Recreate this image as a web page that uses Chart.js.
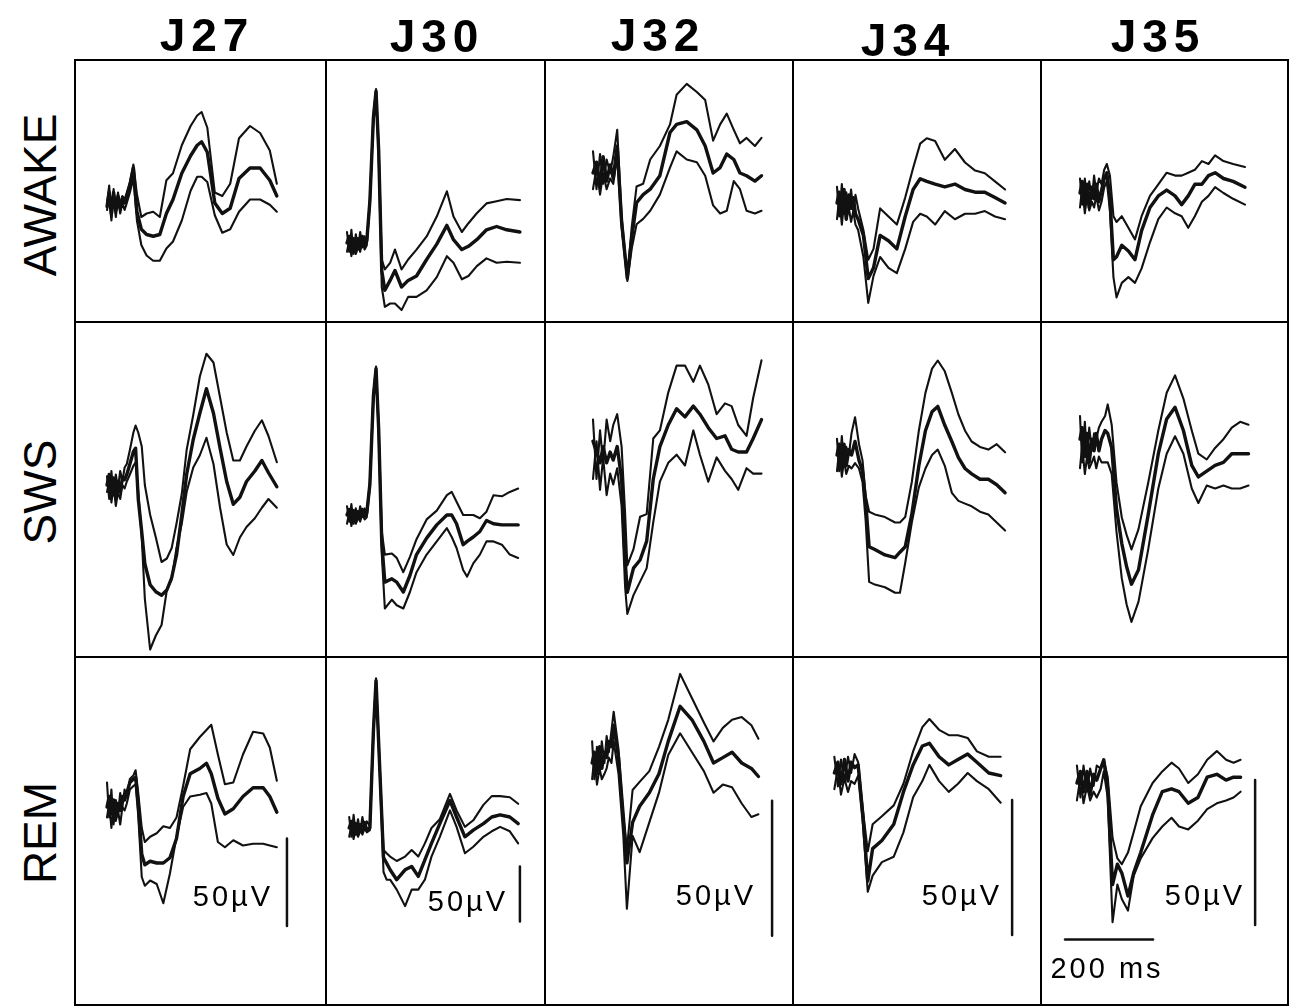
<!DOCTYPE html>
<html>
<head>
<meta charset="utf-8">
<script src="https://cdn.jsdelivr.net/npm/chart.js@4.4.1/dist/chart.umd.min.js"></script>
<style>
  html, body { margin: 0; padding: 0; background: #fff; }
  #fig { position: relative; width: 1290px; height: 1008px; overflow: hidden;
         font-family: "Liberation Sans", Arial, sans-serif; color: #000; }
  #fig canvas { position: absolute; }
  .rule { position: absolute; background: #000; z-index: 2; }
  .title { position: absolute; font-size: 46px; font-weight: bold; letter-spacing: 6px;
           transform: translate(-50%, -50%); white-space: nowrap; }
  .state { position: absolute; font-size: 46px; white-space: nowrap;
           transform: translate(-50%, -50%) rotate(-90deg); }
  .scale { position: absolute; font-size: 29px; letter-spacing: 3px; white-space: nowrap;
           transform: translate(-50%, -50%); z-index: 3; }
</style>
</head>
<body>
<div id="fig"></div>
<script>
// ---- labels ----
const animals = ['J27', 'J30', 'J32', 'J34', 'J35'];
const states = ['AWAKE', 'SWS', 'REM'];

// ---- evoked responses: time (ms from stimulus), upper / mean / lower (µV) ----
// J27
const awakeJ27Time  = [0, 5, 10, 15, 20, 25, 30, 35, 40, 45, 52, 60, 68, 78, 90, 105, 120, 135, 150, 170, 190, 205, 215, 228, 245, 262, 280, 300, 325, 348, 370, 386];
const awakeJ27Upper = [0, 10, -8, 8, -6, 6, -4, 4, 2, 6, 12, 22, 5, -8, -6, -5, -8, 13, 17, 33, 44, 50, 52, 43, 6, 4, 11, 37, 44, 40, 30, 11];
const awakeJ27Mean  = [-2, 6, -6, 6, -4, 4, -3, 3, 0, 4, 10, 20, -5, -15, -18, -19, -18, -6, 2, 17, 27, 33, 35, 29, 0, -6, -3, 14, 20, 20, 13, 4];
const awakeJ27Lower = [-4, 2, -10, 3, -8, 2, -6, 0, -4, 0, 6, 14, -10, -24, -30, -33, -33, -26, -22, -10, 7, 15, 15, 12, -7, -17, -15, -5, 2, 2, -1, -5];

const swsJ27Time  = [0, 5, 10, 15, 20, 25, 30, 35, 40, 45, 52, 60, 65, 71, 79, 86, 98, 111, 124, 136, 147, 158, 170, 181, 196, 211, 226, 242, 257, 272, 287, 302, 317, 336, 352, 367, 386];
const swsJ27Upper = [5, -8, 8, -6, 6, -2, 8, 2, 10, 12, 20, 30, 34, 30, 22, 0, -17, -30, -44, -42, -36, -22, -5, 20, 40, 62, 75, 70, 50, 30, 14, 14, 22, 31, 37, 28, 13];
const swsJ27Mean  = [0, 6, -6, 4, -8, 2, -4, 4, 3, 6, 12, 19, 21, -8, -27, -45, -57, -61, -63, -60, -53, -40, -17, 6, 26, 41, 55, 41, 21, 2, -11, -7, 2, 8, 14, 7, -1];
const swsJ27Lower = [-4, 2, -10, 0, -12, -4, -8, 0, -2, 2, 6, 11, 13, -4, -30, -65, -94, -86, -80, -60, -54, -36, -22, -4, 10, 17, 27, 12, -13, -34, -40, -30, -24, -19, -13, -8, -13];

const remJ27Time  = [0, 5, 10, 15, 20, 25, 30, 35, 40, 45, 52, 60, 65, 71, 79, 86, 98, 113, 128, 143, 158, 173, 189, 211, 226, 237, 252, 268, 287, 309, 332, 355, 370, 386];
const remJ27Upper = [14, -6, 10, -10, 4, -4, 8, 0, 10, 6, 16, 18, 21, 8, -12, -20, -17, -15, -11, -12, -6, 12, 33, 40, 44, 47, 30, 13, 14, 30, 43, 42, 34, 15];
const remJ27Mean  = [0, 6, -4, 4, -6, 2, -2, 6, 4, 8, 14, 16, 17, 2, -27, -33, -31, -32, -32, -29, -18, 6, 19, 22, 25, 19, 5, -4, -1, 6, 11, 11, 6, -3];
const remJ27Lower = [-6, 2, -12, 0, -8, -2, -10, 0, -2, 2, 10, 12, 13, -5, -40, -45, -42, -44, -55, -38, -17, 0, 6, 7, 8, 2, -20, -23, -19, -22, -21, -21, -22, -23];

// J30
const awakeJ30Time  = [0, 5, 10, 15, 20, 25, 30, 35, 40, 45, 52, 60, 66, 72, 79, 86, 98, 109, 124, 139, 158, 181, 204, 227, 242, 261, 276, 295, 317, 340, 363, 393];
const awakeJ30Upper = [10, -8, 12, -10, 8, -6, 10, -4, 6, 0, 40, 116, 140, 86, -15, -24, -18, -6, -24, -15, -6, 6, 24, 47, 24, 10, 18, 27, 36, 38, 40, 39];
const awakeJ30Mean  = [0, 6, -6, 4, -8, 4, -4, 6, -2, 2, 38, 114, 138, 84, -25, -43, -34, -25, -40, -34, -30, -15, -1, 16, 3, -6, -3, 3, 12, 15, 12, 10];
const awakeJ30Lower = [-8, 2, -12, 0, -10, -2, -8, 2, -6, -2, 36, 112, 136, 80, -40, -58, -55, -55, -61, -49, -49, -43, -31, -12, -18, -33, -30, -21, -14, -18, -17, -18];

const swsJ30Time  = [0, 5, 10, 15, 20, 25, 30, 35, 40, 45, 52, 60, 66, 72, 79, 86, 102, 113, 128, 143, 158, 181, 204, 227, 238, 249, 264, 273, 287, 302, 317, 333, 352, 370, 389];
const swsJ30Upper = [8, -6, 10, -8, 6, -4, 8, -2, 6, 2, 30, 110, 135, 80, -15, -36, -35, -39, -52, -38, -22, -4, 4, 18, 21, 12, 0, 0, 0, -3, 3, 18, 17, 21, 24];
const swsJ30Mean  = [0, 5, -5, 4, -6, 3, -3, 5, -1, 2, 28, 108, 133, 78, -25, -61, -58, -61, -70, -55, -36, -21, -9, 0, 0, -8, -27, -24, -20, -15, -5, -8, -9, -9, -9];
const swsJ30Lower = [-8, 2, -10, 0, -8, -2, -6, 2, -4, -2, 26, 106, 131, 76, -35, -85, -77, -82, -85, -70, -52, -36, -24, -12, -20, -30, -50, -56, -44, -36, -24, -24, -27, -36, -39];

const remJ30Time  = [5, 10, 15, 20, 25, 30, 35, 40, 45, 52, 60, 66, 74, 83, 90, 98, 113, 132, 147, 162, 177, 192, 211, 234, 249, 268, 287, 310, 329, 348, 370, 389];
const remJ30Upper = [10, -8, 12, -6, 8, -4, 10, -2, 6, 2, 90, 136, 60, -20, -23, -26, -30, -26, -20, -26, -14, 0, 8, 31, 16, 1, 7, 21, 29, 29, 28, 22];
const remJ30Mean  = [0, 6, -4, 4, -6, 3, -3, 5, -2, 0, 88, 134, 58, -27, -32, -38, -47, -38, -35, -44, -29, -14, 4, 25, 10, -8, -2, 4, 10, 12, 10, 4];
const remJ30Lower = [-8, 2, -10, 0, -8, -2, -6, 0, -4, -2, 86, 132, 56, -40, -47, -47, -56, -71, -56, -56, -47, -26, -8, 16, 1, -23, -17, -8, -3, 1, -3, -14];

// J32
const awakeJ32Time  = [0, 8, 16, 23, 31, 39, 46, 55, 65, 78, 88, 99, 114, 130, 152, 175, 190, 213, 236, 255, 273, 289, 304, 320, 334, 349, 368, 383];
const awakeJ32Upper = [8, -6, 7, -4, 5, 0, 6, 16, -16, -39, -20, -5, -4, 5, 10, 18, 29, 33, 30, 27, 12, 18, 22, 16, 11, 13, 10, 13];
const awakeJ32Mean  = [0, 4, -5, 6, -3, 3, -2, 10, -18, -39, -24, -11, -8, -6, -1, 15, 18, 19, 16, 10, 0, 2, 7, 5, 0, -1, -3, -1];
const awakeJ32Lower = [-6, 2, -8, 0, -6, -2, -4, 6, -20, -40, -28, -19, -17, -14, -8, 2, 8, 5, 4, -1, -12, -15, -14, -3, -6, -14, -15, -14];

const swsJ32Time  = [0, 8, 16, 23, 31, 39, 46, 55, 65, 73, 78, 92, 107, 122, 137, 152, 171, 190, 209, 228, 243, 262, 281, 300, 315, 330, 349, 364, 383];
const swsJ32Upper = [12, -10, 8, -4, 12, 4, 10, 14, 2, -23, -42, -36, -24, -23, 5, 8, 22, 32, 32, 26, 32, 25, 14, 18, 17, 10, 6, 20, 34];
const swsJ32Mean  = [4, 0, -4, 2, -4, 0, -3, 2, -10, -40, -52, -43, -40, -33, -10, 2, 10, 16, 13, 17, 14, 9, 5, 6, 1, 0, 0, 5, 12];
const swsJ32Lower = [-10, 4, -14, -2, -16, -8, -12, -6, -20, -50, -60, -53, -48, -43, -26, -11, -4, -1, -5, 8, -1, -11, -2, -7, -10, -14, -6, -8, -8];

const remJ32Time  = [-2, 3, 9, 15, 20, 26, 31, 36, 42, 47, 58, 69, 77, 90, 106, 128, 150, 171, 198, 225, 252, 274, 295, 316, 338, 360, 376];
const remJ32Upper = [8, -6, 6, -4, 8, 0, 10, 4, 12, 19, 5, -20, -32, -10, -7, -3, 6, 16, 33, 24, 15, 8, 13, 16, 17, 14, 9];
const remJ32Mean  = [0, 4, -4, 6, -2, 4, 2, 8, 6, 14, 2, -20, -37, -22, -16, -11, -4, 8, 21, 16, 8, 0, 2, 4, 0, -2, -5];
const remJ32Lower = [-6, 2, -8, -2, -6, -4, -2, 2, 0, 8, -4, -27, -54, -27, -33, -22, -11, 3, 11, 4, -3, -11, -8, -9, -15, -20, -19];

// J34
const awakeJ34Time  = [0, 5, 11, 16, 21, 27, 32, 37, 42, 48, 60, 71, 83, 98, 117, 136, 155, 173, 189, 204, 223, 245, 268, 291, 314, 336, 359, 382];
const awakeJ34Upper = [6, -5, 7, -4, 4, -2, 5, -3, 3, -2, -10, -21, -17, -2, -5, -8, 2, 13, 22, 24, 23, 16, 20, 15, 12, 11, 8, 5];
const awakeJ34Mean  = [0, 4, -4, 5, -6, 3, -2, 2, -4, -6, -12, -28, -24, -12, -14, -17, -5, 5, 9, 8, 7, 6, 7, 5, 4, 4, 2, 0];
const awakeJ34Lower = [-6, 2, -8, 0, -6, -2, -7, -3, -8, -10, -20, -37, -27, -20, -24, -26, -17, -7, -4, -5, -8, -3, -6, -4, -4, -3, -5, -6];

const swsJ34Time  = [0, 5, 11, 16, 21, 27, 33, 41, 50, 58, 65, 73, 86, 109, 132, 143, 155, 170, 186, 201, 216, 229, 245, 261, 276, 291, 306, 325, 344, 363, 382];
const swsJ34Upper = [6, -6, 7, -4, 3, 0, 8, 14, 4, -2, -15, -21, -22, -23, -25, -25, -23, -10, 9, 23, 32, 35, 31, 23, 15, 9, 5, 3, 2, 4, 1];
const swsJ34Mean  = [0, 4, -5, 4, -4, 2, 0, 5, -2, -6, -17, -34, -35, -37, -38, -36, -34, -22, -4, 9, 16, 18, 11, 5, -1, -5, -7, -9, -9, -11, -14];
const swsJ34Lower = [-6, 2, -8, -2, -7, -4, -5, -3, -5, -10, -24, -47, -48, -49, -51, -51, -40, -25, -12, -5, 0, 2, -4, -14, -17, -18, -19, -21, -22, -25, -28];

const remJ34Time  = [-6, 2, 9, 17, 25, 32, 40, 48, 59, 70, 81, 102, 129, 151, 173, 194, 210, 232, 254, 275, 297, 318, 345, 372];
const remJ34Upper = [6, -5, 5, -3, 6, 0, 7, 4, -14, -29, -19, -16, -12, -4, 8, 17, 20, 16, 14, 14, 13, 8, 6, 6];
const remJ34Mean  = [0, 4, -4, 5, -3, 4, 2, 3, -16, -40, -28, -25, -19, -7, 3, 10, 11, 6, 3, 5, 7, 4, 0, -1];
const remJ34Lower = [-6, 2, -8, -2, -7, -3, -4, -1, -19, -44, -38, -33, -31, -22, -9, -3, 3, -3, -7, -4, 0, -3, -6, -11];

// J35
const awakeJ35Time  = [0, 5, 11, 16, 21, 27, 32, 37, 43, 49, 55, 61, 68, 76, 83, 95, 110, 125, 140, 159, 178, 197, 216, 231, 246, 261, 277, 292, 307, 326, 348, 375];
const awakeJ35Upper = [5, -4, 5, -3, 4, -2, 6, 0, 5, 3, 8, 10, 6, -8, -10, -8, -12, -16, -8, -1, 3, 7, 6, 6, 7, 8, 11, 10, 13, 11, 10, 9];
const awakeJ35Mean  = [0, 4, -4, 3, -5, 2, -2, 3, -3, 1, 5, 7, -2, -23, -22, -18, -20, -23, -13, -5, -1, 1, -1, -4, -1, 3, 3, 6, 7, 5, 4, 2];
const awakeJ35Lower = [-5, 2, -7, -1, -6, -3, -5, -1, -6, -3, 2, 4, -6, -29, -36, -31, -29, -31, -26, -17, -9, -5, -7, -8, -12, -8, -3, -1, 2, 0, -2, -4];

const swsJ35Time  = [0, 5, 11, 16, 21, 27, 32, 37, 43, 49, 57, 63, 72, 83, 95, 106, 117, 133, 155, 178, 197, 216, 235, 254, 269, 288, 307, 326, 345, 364, 383];
const swsJ35Upper = [10, -6, 8, -4, 6, -2, 4, 2, 6, 8, 10, 14, 7, -13, -25, -31, -36, -29, -13, 5, 18, 24, 16, 5, -3, -5, -1, 2, 6, 8, 7];
const swsJ35Mean  = [2, 6, -4, 4, -6, 2, -2, 4, -2, 2, 5, 4, -1, -22, -34, -42, -48, -43, -24, -3, 9, 13, 5, -7, -11, -9, -7, -6, -3, -3, -3];
const swsJ35Lower = [-8, 0, -10, -4, -8, -6, -4, -8, -4, -6, -6, -6, -10, -30, -46, -55, -61, -54, -36, -15, -3, 3, -3, -15, -20, -14, -15, -14, -15, -15, -14];

const remJ35Time  = [-7, 1, 8, 16, 23, 31, 38, 47, 54, 63, 74, 85, 95, 109, 122, 138, 165, 187, 208, 225, 246, 268, 289, 311, 332, 349, 365];
const remJ35Upper = [6, -5, 6, -3, 5, -1, 6, 5, 8, 2, -19, -26, -28, -24, -17, -8, 0, 4, 7, 5, 0, 3, 8, 11, 8, 7, 8];
const remJ35Mean  = [0, 4, -3, 4, -4, 3, 1, 5, 8, -2, -35, -28, -31, -39, -31, -24, -11, -3, -2, -3, -7, -5, 2, 3, 1, 2, 2];
const remJ35Lower = [-6, 2, -7, -1, -6, -3, -5, -2, 4, -5, -48, -35, -40, -44, -32, -26, -19, -15, -12, -15, -16, -13, -9, -7, -6, -5, -3];

// ---- calibration bars (REM row) ----
const uvBarSize = 50;                          // µV
const uvBarTime = [409, 393, 407, 398, 398];   // ms, per animal
const uvBarTop  = [-18, -35, -14, -10, 1];     // µV, per animal
const msBarLength = 200;                       // ms (J35 only)
const msBarStart = -34;
const msBarLevel = -54;

// ---- layout (pixels) ----
const colEdges = [75, 326, 545, 793, 1041, 1288];
const rowEdges = [60, 322, 657, 1005];
const stimX = [107, 347, 593, 837, 1080];
const pxPerMs = 0.44;
const pxPerUv = [1.75, 1.1, 2.7, 2.7, 2.9];
const baseY = [
  [203, 243, 173, 203, 193],
  [485, 515, 452, 455, 445],
  [807, 828, 763, 773, 783]
];

const traces = [
  [[awakeJ27Time, awakeJ27Upper, awakeJ27Mean, awakeJ27Lower],
   [awakeJ30Time, awakeJ30Upper, awakeJ30Mean, awakeJ30Lower],
   [awakeJ32Time, awakeJ32Upper, awakeJ32Mean, awakeJ32Lower],
   [awakeJ34Time, awakeJ34Upper, awakeJ34Mean, awakeJ34Lower],
   [awakeJ35Time, awakeJ35Upper, awakeJ35Mean, awakeJ35Lower]],
  [[swsJ27Time, swsJ27Upper, swsJ27Mean, swsJ27Lower],
   [swsJ30Time, swsJ30Upper, swsJ30Mean, swsJ30Lower],
   [swsJ32Time, swsJ32Upper, swsJ32Mean, swsJ32Lower],
   [swsJ34Time, swsJ34Upper, swsJ34Mean, swsJ34Lower],
   [swsJ35Time, swsJ35Upper, swsJ35Mean, swsJ35Lower]],
  [[remJ27Time, remJ27Upper, remJ27Mean, remJ27Lower],
   [remJ30Time, remJ30Upper, remJ30Mean, remJ30Lower],
   [remJ32Time, remJ32Upper, remJ32Mean, remJ32Lower],
   [remJ34Time, remJ34Upper, remJ34Mean, remJ34Lower],
   [remJ35Time, remJ35Upper, remJ35Mean, remJ35Lower]]
];

const fig = document.getElementById('fig');
const ink = '#111';

function pairs(t, v) {
  return t.map((x, i) => ({ x: x, y: v[i] }));
}

function traceSet(data, width) {
  return { data: data, borderColor: ink, borderWidth: width, pointRadius: 0,
           tension: 0, fill: false, borderJoinStyle: 'round', borderCapStyle: 'round' };
}

for (let r = 0; r < 3; r++) {
  for (let c = 0; c < 5; c++) {
    const left = colEdges[c], right = colEdges[c + 1];
    const top = rowEdges[r], bottom = rowEdges[r + 1];
    const cv = document.createElement('canvas');
    cv.width = right - left;
    cv.height = bottom - top;
    cv.style.left = left + 'px';
    cv.style.top = top + 'px';
    fig.appendChild(cv);

    const [t, up, mean, low] = traces[r][c];
    const datasets = [
      traceSet(pairs(t, up), 2.1),
      traceSet(pairs(t, low), 2.1),
      traceSet(pairs(t, mean), 3.4)
    ];
    if (r === 2) {
      datasets.push(traceSet([{ x: uvBarTime[c], y: uvBarTop[c] },
                              { x: uvBarTime[c], y: uvBarTop[c] - uvBarSize }], 2.5));
      if (c === 4) {
        datasets.push(traceSet([{ x: msBarStart, y: msBarLevel },
                                { x: msBarStart + msBarLength, y: msBarLevel }], 2.5));
      }
    }

    new Chart(cv.getContext('2d'), {
      type: 'line',
      data: { datasets: datasets },
      options: {
        responsive: false,
        animation: false,
        events: [],
        layout: { padding: 0 },
        plugins: { legend: { display: false }, tooltip: { enabled: false } },
        scales: {
          x: { type: 'linear', display: false,
               min: (left - stimX[c]) / pxPerMs, max: (right - stimX[c]) / pxPerMs },
          y: { type: 'linear', display: false,
               min: (baseY[r][c] - bottom) / pxPerUv[c], max: (baseY[r][c] - top) / pxPerUv[c] }
        }
      }
    });
  }
}

// grid rules
colEdges.forEach(x => {
  const d = document.createElement('div');
  d.className = 'rule';
  d.style.left = (x - 1) + 'px'; d.style.top = (rowEdges[0] - 1) + 'px';
  d.style.width = '2px'; d.style.height = (rowEdges[3] - rowEdges[0] + 2) + 'px';
  fig.appendChild(d);
});
rowEdges.forEach(y => {
  const d = document.createElement('div');
  d.className = 'rule';
  d.style.left = (colEdges[0] - 1) + 'px'; d.style.top = (y - 1) + 'px';
  d.style.width = (colEdges[5] - colEdges[0] + 2) + 'px'; d.style.height = '2px';
  fig.appendChild(d);
});

function label(cls, text, x, y) {
  const d = document.createElement('div');
  d.className = cls;
  d.textContent = text;
  d.style.left = x + 'px';
  d.style.top = y + 'px';
  fig.appendChild(d);
}

const titleX = [207, 437, 658, 908, 1158];
const titleY = [35, 36, 35, 40, 36];
animals.forEach((a, i) => label('title', a, titleX[i], titleY[i]));

const stateY = [195, 492, 833];
states.forEach((s, i) => label('state', s, 40, stateY[i]));

const uvLabelX = [233, 468, 716, 962, 1205];
const uvLabelY = [896, 901, 895, 895, 895];
uvLabelX.forEach((x, i) => label('scale', uvBarSize + '\u00b5V', x, uvLabelY[i]));
label('scale', msBarLength + ' ms', 1107, 968);
</script>
</body>
</html>
